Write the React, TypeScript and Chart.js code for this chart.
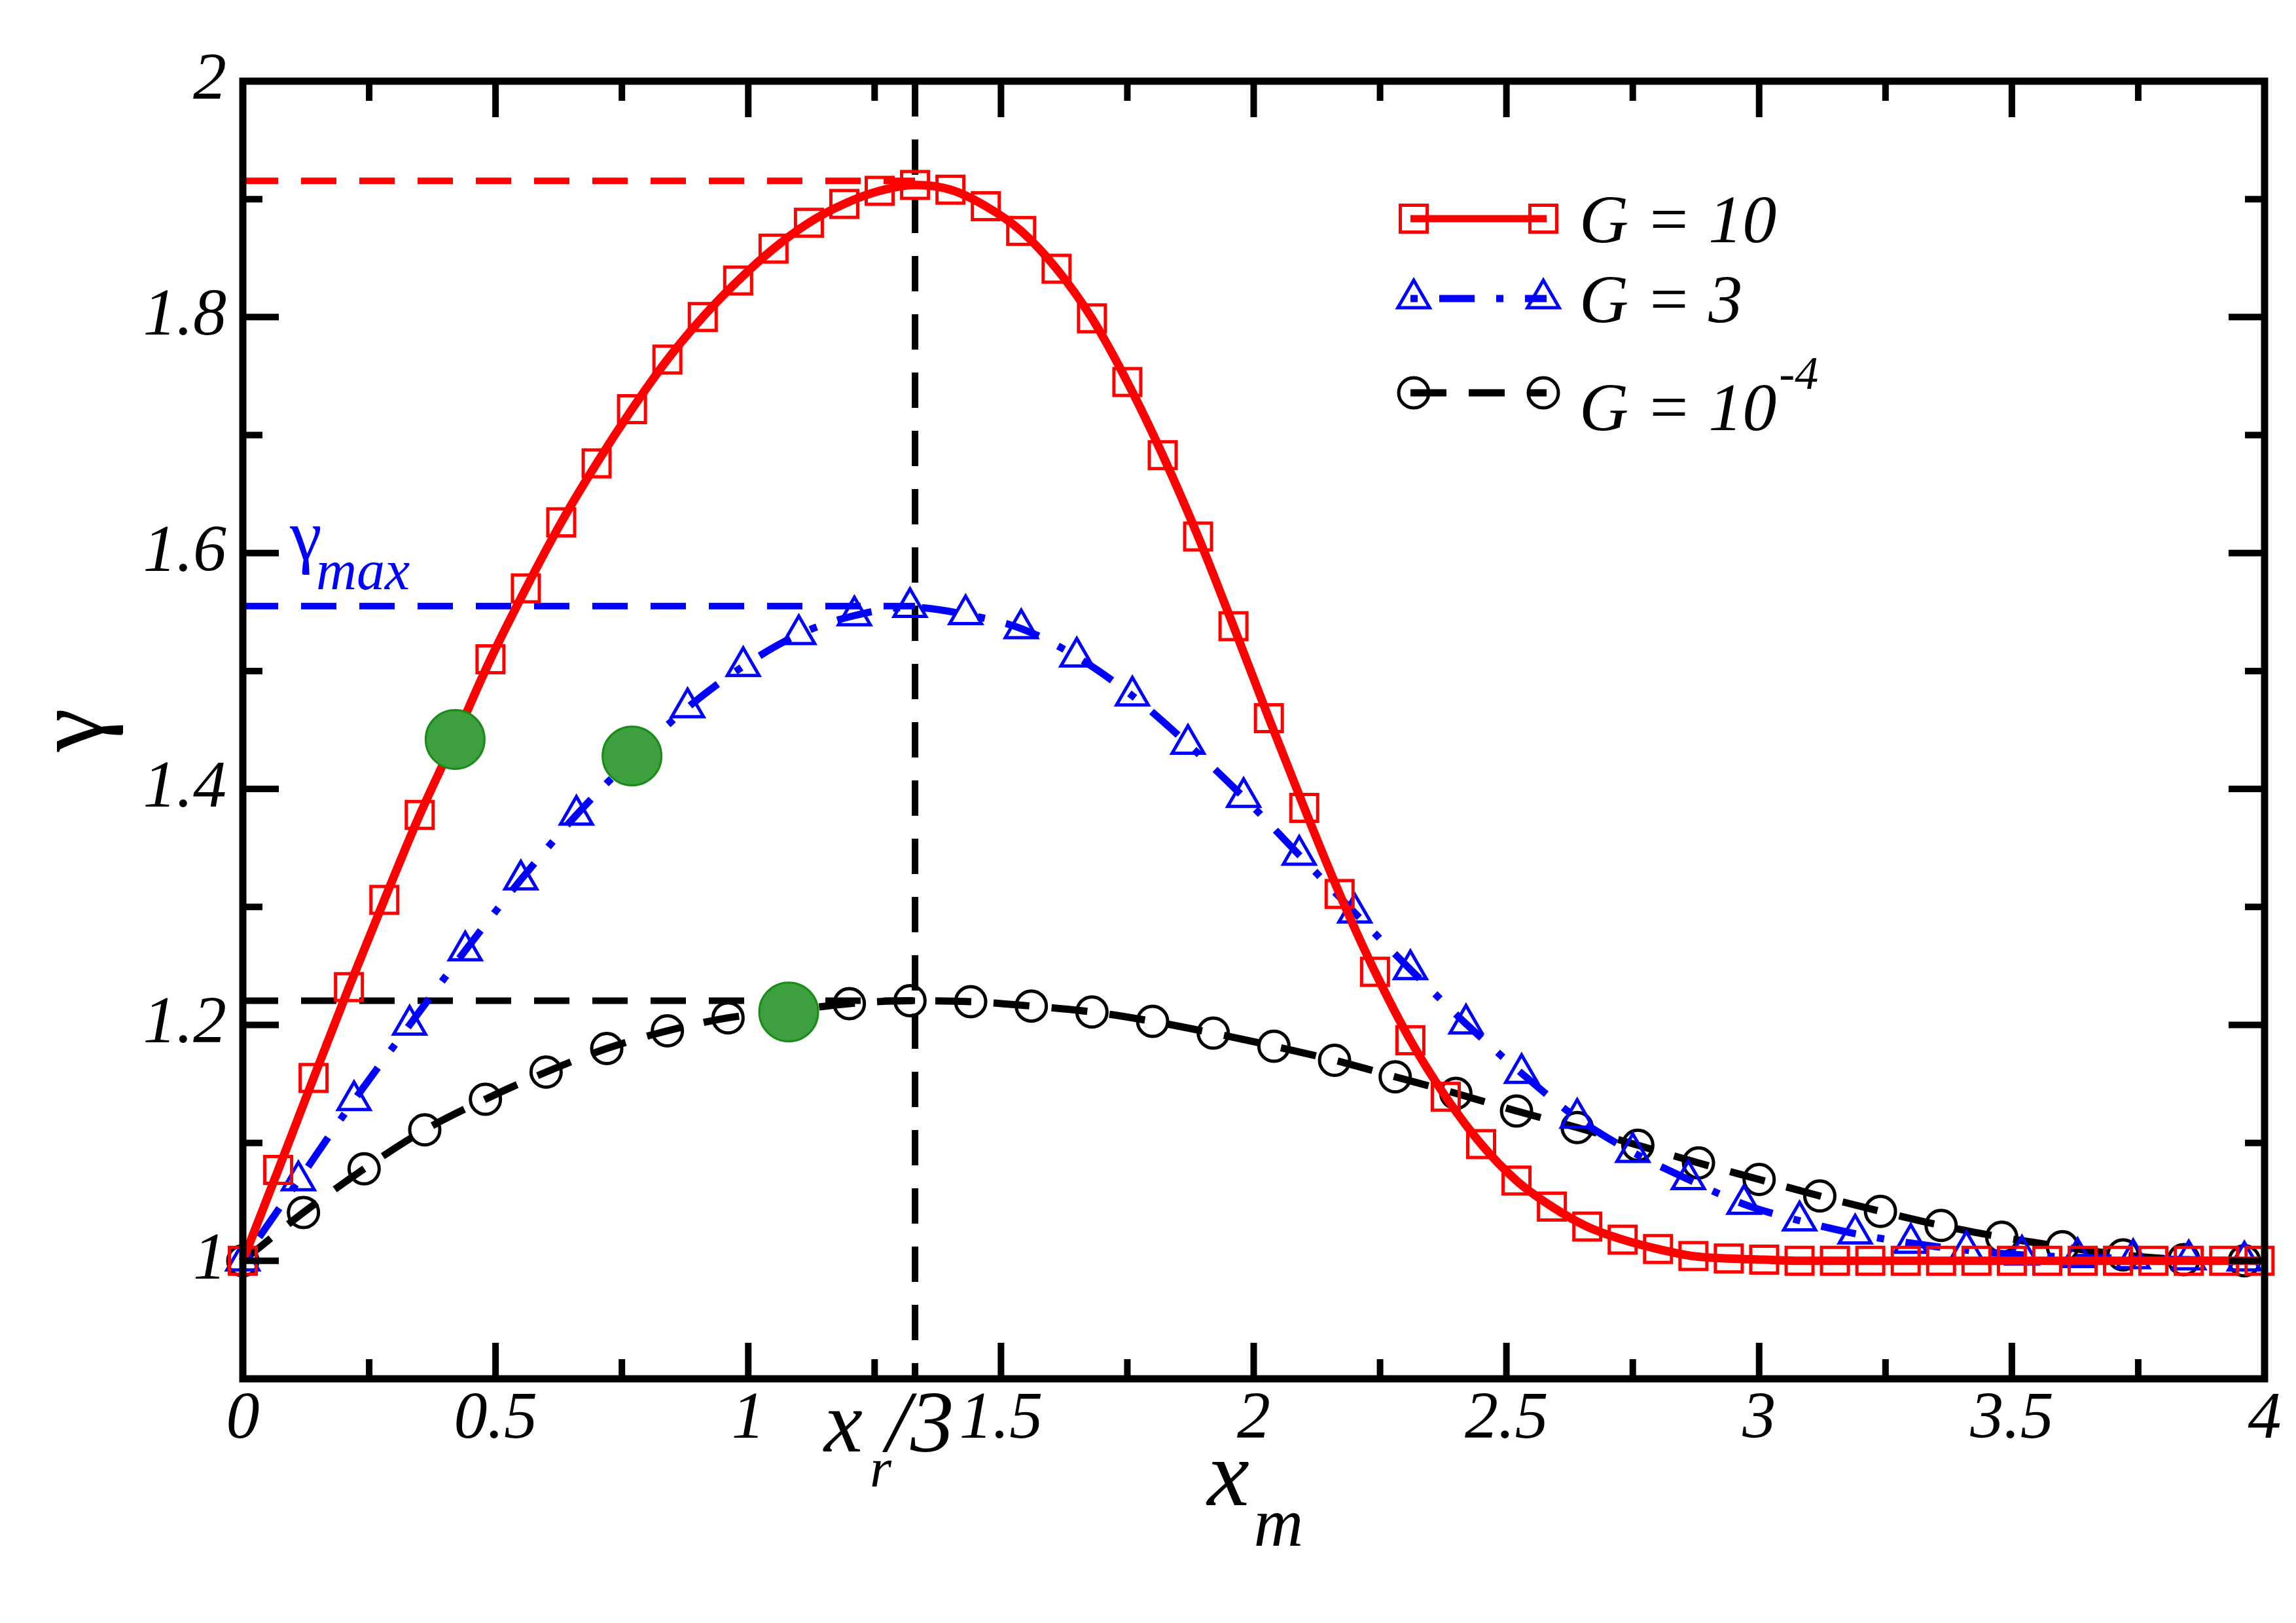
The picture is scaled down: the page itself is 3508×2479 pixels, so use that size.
import { useEffect, useRef } from "react";
import Chart from "chart.js/auto";

const W = 3508;
const H = 2479;
const SERIF = '"Liberation Serif", "Times New Roman", serif';

// G = 10 (red squares, solid line)
const redX = [
  0, 0.07, 0.14, 0.21, 0.28, 0.35, 0.42, 0.49, 0.56, 0.63, 0.7, 0.77, 0.84, 0.91, 0.98,
  1.05, 1.12, 1.19, 1.26, 1.33, 1.4, 1.47, 1.54, 1.61, 1.68, 1.75, 1.82, 1.89, 1.96,
  2.03, 2.1, 2.17, 2.24, 2.31, 2.38, 2.45, 2.52, 2.59, 2.66, 2.73, 2.8, 2.87, 2.94,
  3.01, 3.08, 3.15, 3.22, 3.29, 3.36, 3.43, 3.5, 3.57, 3.64, 3.71, 3.78, 3.85, 3.92, 3.99,
];
const redY = [
  1.0, 1.077, 1.155, 1.232, 1.306, 1.378, 1.443, 1.51, 1.57, 1.626, 1.676, 1.722, 1.764,
  1.8, 1.831, 1.858, 1.88, 1.896, 1.907, 1.912, 1.908, 1.894, 1.873, 1.841, 1.799, 1.745,
  1.683, 1.614, 1.538, 1.46, 1.384, 1.311, 1.245, 1.187, 1.139, 1.099, 1.068, 1.046,
  1.029, 1.018, 1.01, 1.004, 1.002, 1.001, 1.0, 1.0, 1.0, 1.0, 1.0, 1.0, 1.0, 1.0, 1.0,
  1.0, 1.0, 1.0, 1.0, 1.0,
];

// G = 3 (blue triangles, dash-dot)
const blueX = [
  0, 0.11, 0.22, 0.33, 0.44, 0.55, 0.66, 0.77, 0.88, 0.99, 1.1, 1.21, 1.32, 1.43, 1.54,
  1.65, 1.76, 1.87, 1.98, 2.09, 2.2, 2.31, 2.42, 2.53, 2.64, 2.75, 2.86, 2.97, 3.08,
  3.19, 3.3, 3.41, 3.52, 3.63, 3.74, 3.85, 3.96,
];
const blueY = [
  1.0, 1.068, 1.136, 1.2, 1.263, 1.323, 1.378, 1.426, 1.469, 1.504, 1.531, 1.547, 1.554,
  1.548, 1.536, 1.512, 1.479, 1.438, 1.393, 1.344, 1.295, 1.247, 1.201, 1.159, 1.121,
  1.092, 1.069, 1.048, 1.034, 1.023, 1.015, 1.009, 1.005, 1.003, 1.002, 1.001, 1.0,
];

// G = 1e-4 (black circles, dashed)
const blackX = [
  0, 0.12, 0.24, 0.36, 0.48, 0.6, 0.72, 0.84, 0.96, 1.08, 1.2, 1.32, 1.44, 1.56, 1.68,
  1.8, 1.92, 2.04, 2.16, 2.28, 2.4, 2.52, 2.64, 2.76, 2.88, 3.0, 3.12, 3.24, 3.36, 3.48,
  3.6, 3.72, 3.84, 3.96,
];
const blackY = [
  1.0, 1.041, 1.078, 1.111, 1.137, 1.16, 1.18, 1.195, 1.206, 1.212, 1.218, 1.2205, 1.2197,
  1.216, 1.211, 1.203, 1.193, 1.182, 1.17, 1.156, 1.142, 1.127, 1.113, 1.098, 1.083,
  1.069, 1.055, 1.042, 1.03, 1.02, 1.012, 1.005, 1.001, 1.0,
];

// green filled markers
const markX = [0.42, 0.77, 1.08];
const markY = [1.442, 1.428, 1.211];

// x_r/3 and the gamma_max levels of each curve
const XR3 = 1.33;
const gammaMax = [1.9155, 1.555, 1.2205];

const xTickLabels = ["0", "0.5", "1", "1.5", "2", "2.5", "3", "3.5", "4"];
const yTickLabels = ["1", "1.2", "1.4", "1.6", "1.8", "2"];

const pts = (xs: number[], ys: number[]) => xs.map((x, i) => ({ x, y: ys[i] }));
const isMult = (v: number, step: number) => Math.abs(v / step - Math.round(v / step)) < 1e-6;

function square(ctx: CanvasRenderingContext2D, x: number, y: number, r: number) {
  const s = Math.SQRT1_2 * r;
  ctx.strokeRect(x - s, y - s, 2 * s, 2 * s);
}
function triangle(ctx: CanvasRenderingContext2D, x: number, y: number, r: number) {
  ctx.beginPath();
  for (let i = 0; i < 3; i++) {
    const a = (i * 2 * Math.PI) / 3;
    const px = x + Math.sin(a) * r;
    const py = y - Math.cos(a) * r;
    if (i === 0) ctx.moveTo(px, py);
    else ctx.lineTo(px, py);
  }
  ctx.closePath();
  ctx.stroke();
}
function circle(ctx: CanvasRenderingContext2D, x: number, y: number, r: number) {
  ctx.beginPath();
  ctx.arc(x, y, r, 0, Math.PI * 2);
  ctx.stroke();
}
function txt(ctx: CanvasRenderingContext2D, s: string, x: number, y: number, font: string, color = "#000") {
  ctx.font = font;
  ctx.fillStyle = color;
  ctx.fillText(s, x, y);
  return ctx.measureText(s).width;
}

const decor = {
  id: "decor",
  afterDraw(chart: Chart) {
    const { ctx, chartArea: a } = chart;
    const xs = chart.scales.x;
    const ys = chart.scales.y;
    ctx.save();

    // frame and inward ticks on all four sides
    ctx.strokeStyle = "#000";
    ctx.setLineDash([]);
    ctx.lineWidth = 10;
    ctx.beginPath();
    for (const t of xs.ticks) {
      const p = xs.getPixelForValue(t.value);
      const len = isMult(t.value, 0.5) ? 55 : 30;
      ctx.moveTo(p, a.bottom);
      ctx.lineTo(p, a.bottom - len);
      ctx.moveTo(p, a.top);
      ctx.lineTo(p, a.top + len);
    }
    for (const t of ys.ticks) {
      const p = ys.getPixelForValue(t.value);
      const len = isMult(t.value, 0.2) ? 55 : 30;
      ctx.moveTo(a.left, p);
      ctx.lineTo(a.left + len, p);
      ctx.moveTo(a.right, p);
      ctx.lineTo(a.right - len, p);
    }
    ctx.stroke();
    ctx.lineWidth = 11;
    ctx.strokeRect(a.left, a.top, a.right - a.left, a.bottom - a.top);

    ctx.textAlign = "left";
    ctx.textBaseline = "alphabetic";

    // y title, rotated gamma
    ctx.save();
    ctx.translate(156, 1115);
    ctx.rotate(-Math.PI / 2);
    ctx.textAlign = "center";
    txt(ctx, "γ", 0, 0, `150px ${SERIF}`);
    ctx.restore();

    // x title x_m
    const cx = (a.left + a.right) / 2;
    txt(ctx, "x", cx - 71, a.bottom + 193, `italic 145px ${SERIF}`);
    txt(ctx, "m", cx, a.bottom + 255, `italic 105px ${SERIF}`);

    // x_r/3 label under the vertical line
    const pr = xs.getPixelForValue(XR3);
    txt(ctx, "x", pr - 139, a.bottom + 111, `italic 133px ${SERIF}`);
    txt(ctx, "r", pr - 69, a.bottom + 165, `italic 85px ${SERIF}`);
    txt(ctx, "/3", pr - 44, a.bottom + 111, `italic 133px ${SERIF}`);

    // gamma_max annotation
    txt(ctx, "γ", a.left + 72, 855, `110px ${SERIF}`, "#0000ff");
    txt(ctx, "max", a.left + 112, 900, `italic 86px ${SERIF}`, "#0000ff");

    // legend
    const x1 = 2155;
    const x2 = 2363;
    const m1 = 2160;
    const m2 = 2358;
    const tx = 2413;
    const font = `italic 104px ${SERIF}`;

    ctx.lineWidth = 11;
    ctx.strokeStyle = "#ff0000";
    ctx.beginPath();
    ctx.moveTo(x1, 334);
    ctx.lineTo(x2, 334);
    ctx.stroke();
    ctx.lineWidth = 5;
    square(ctx, m1, 334, 29);
    square(ctx, m2, 334, 29);
    txt(ctx, "G = 10", tx, 370, font);

    ctx.lineWidth = 11;
    ctx.strokeStyle = "#0000ff";
    ctx.setLineDash([11, 33, 54, 33]);
    ctx.beginPath();
    ctx.moveTo(x1, 456);
    ctx.lineTo(x2, 456);
    ctx.stroke();
    ctx.setLineDash([]);
    ctx.lineWidth = 5;
    triangle(ctx, m1, 456, 28);
    triangle(ctx, m2, 456, 28);
    txt(ctx, "G = 3", tx, 492, font);

    ctx.lineWidth = 11;
    ctx.strokeStyle = "#000";
    ctx.setLineDash([55, 34]);
    ctx.beginPath();
    ctx.moveTo(x1, 600);
    ctx.lineTo(x2, 600);
    ctx.stroke();
    ctx.setLineDash([]);
    ctx.lineWidth = 5;
    circle(ctx, m1, 600, 23);
    circle(ctx, m2, 600, 23);
    const w = txt(ctx, "G = 10", tx, 657, font);
    txt(ctx, "-4", tx + w + 4, 594, `italic 72px ${SERIF}`);

    ctx.restore();
  },
};

export default function App() {
  const canvasRef = useRef<HTMLCanvasElement | null>(null);

  useEffect(() => {
    if (!canvasRef.current) return;

    const refLine = (data: { x: number; y: number }[], color: string) => ({
      data,
      borderColor: color,
      borderWidth: 10,
      borderDash: [54, 35],
      pointRadius: 0,
      tension: 0,
      clip: false as const,
    });

    const chart = new Chart(canvasRef.current, {
      type: "line",
      data: {
        datasets: [
          {
            data: pts(markX, markY),
            showLine: false,
            pointStyle: "circle",
            pointRadius: 45,
            pointBorderWidth: 3,
            pointBackgroundColor: "#3d9f3d",
            pointBorderColor: "#178c17",
            clip: false,
          },
          {
            data: pts(redX, redY),
            borderColor: "#ff0000",
            borderWidth: 13,
            cubicInterpolationMode: "monotone",
            pointStyle: "rect",
            pointRadius: 29,
            pointBorderWidth: 5,
            pointBorderColor: "#ff0000",
            pointBackgroundColor: "rgba(0,0,0,0)",
            clip: false,
          },
          {
            data: pts(blueX, blueY),
            borderColor: "#0000ff",
            borderWidth: 11,
            borderDash: [11, 33, 54, 33],
            cubicInterpolationMode: "monotone",
            pointStyle: "triangle",
            pointRadius: 28,
            pointBorderWidth: 5,
            pointBorderColor: "#0000ff",
            pointBackgroundColor: "rgba(0,0,0,0)",
            clip: false,
          },
          {
            data: pts(blackX, blackY),
            borderColor: "#000000",
            borderWidth: 11,
            borderDash: [55, 34],
            cubicInterpolationMode: "monotone",
            pointStyle: "circle",
            pointRadius: 23,
            pointBorderWidth: 5,
            pointBorderColor: "#000000",
            pointBackgroundColor: "rgba(0,0,0,0)",
            clip: false,
          },
          refLine([{ x: 0, y: gammaMax[0] }, { x: XR3, y: gammaMax[0] }], "#ff0000"),
          refLine([{ x: 0, y: gammaMax[1] }, { x: XR3, y: gammaMax[1] }], "#0000ff"),
          refLine([{ x: 0, y: gammaMax[2] }, { x: XR3, y: gammaMax[2] }], "#000000"),
          refLine([{ x: XR3, y: 2 }, { x: XR3, y: 0.9 }], "#000000"),
        ],
      },
      options: {
        animation: false,
        responsive: true,
        maintainAspectRatio: false,
        events: [],
        layout: { padding: { top: 124, right: 38, left: 0, bottom: 0 } },
        plugins: {
          legend: { display: false },
          tooltip: { enabled: false },
        },
        scales: {
          x: {
            type: "linear",
            min: 0,
            max: 4,
            grid: { display: false, drawTicks: false },
            border: { display: false },
            ticks: {
              stepSize: 0.25,
              autoSkip: false,
              maxRotation: 0,
              padding: 2,
              color: "#000",
              font: { family: SERIF, size: 102, style: "italic" },
              callback: (v) => {
                const n = Number(v);
                return isMult(n, 0.5) ? xTickLabels[Math.round(n / 0.5)] : "";
              },
            },
            afterFit: (s) => {
              s.height = H - 2106;
            },
          },
          y: {
            type: "linear",
            min: 0.9,
            max: 2,
            grid: { display: false, drawTicks: false },
            border: { display: false },
            ticks: {
              stepSize: 0.1,
              autoSkip: false,
              padding: 25,
              color: "#000",
              font: { family: SERIF, size: 102, style: "italic" },
              callback: (v) => {
                const k = (Number(v) - 1) / 0.2;
                const i = Math.round(k);
                return Math.abs(k - i) < 1e-6 && i >= 0 ? yTickLabels[i] : "";
              },
            },
            afterFit: (s) => {
              s.width = 371;
            },
          },
        },
      },
      plugins: [decor],
    });

    return () => {
      chart.destroy();
    };
  }, []);

  return (
    <div style={{ position: "absolute", left: 0, top: 0, width: W, height: H, background: "#fff" }}>
      <canvas ref={canvasRef} />
    </div>
  );
}
